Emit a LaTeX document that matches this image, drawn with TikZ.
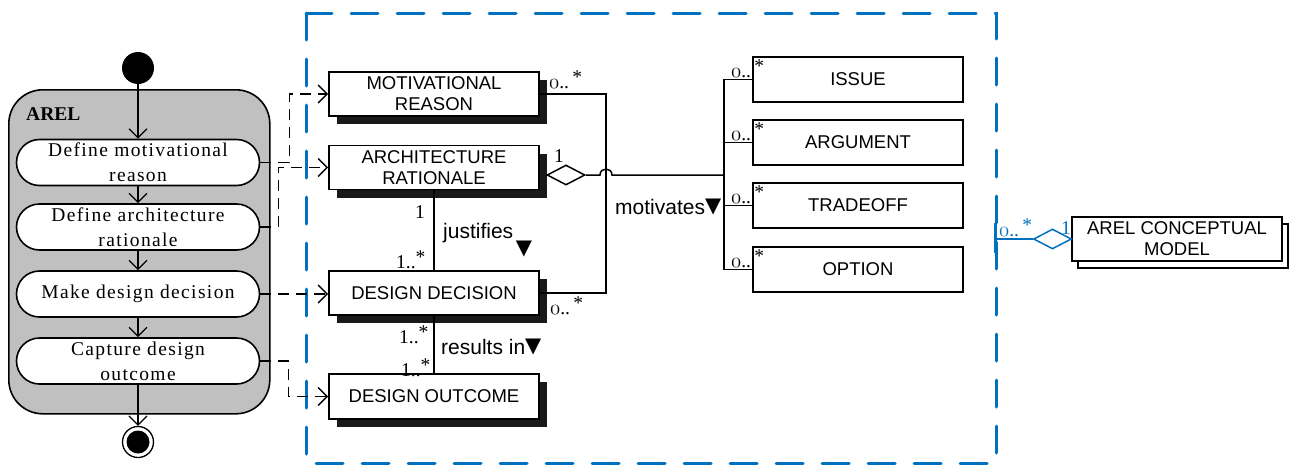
\documentclass[tikz,border=0pt]{standalone}
\usepackage{fontspec}
\setmainfont{Liberation Serif}
\setsansfont{Liberation Sans}
\newfontfamily\actfont[LetterSpace=7]{Liberation Serif}
\newfontfamily\symfont{DejaVu Sans}
\usetikzlibrary{arrows.meta,shadows,shapes.geometric,calc}
\definecolor{frameblue}{HTML}{0070C0}
\definecolor{lanegray}{HTML}{C0C0C0}
\newcommand{\oldzero}{$\mathnormal{0}$}
\newcommand{\many}{\raisebox{4.5pt}{*}}
\newcommand{\dirmark}{{\symfont\fontsize{21}{21}\selectfont▼}}
\begin{document}
\begin{tikzpicture}[x=1pt,y=-1pt,
  lane/.style={draw,line width=1.6pt,fill=lanegray,rounded corners=34pt,anchor=north west,inner sep=0pt},
  action/.style={draw,line width=1.6pt,fill=white,rounded corners=23pt,minimum width=243pt,minimum height=46pt,inner sep=0pt,align=center,font=\actfont\fontsize{19.5}{25}\selectfont},
  flow/.style={line width=1.3pt,-{Straight Barb[length=9pt,width=18pt]}},
  trace/.style={line width=1.4pt,dash pattern=on 11pt off 7pt,-{Straight Barb[length=9pt,width=18pt]}},
  cls/.style={draw,line width=1.6pt,fill=white,minimum width=210pt,minimum height=44pt,inner sep=0pt,align=center,font=\sffamily\fontsize{18.5}{21}\selectfont},
  shadowed/.style={drop shadow={shadow xshift=8pt,shadow yshift=-8pt,fill=black!90,opacity=1}},
  assoc/.style={line width=1.5pt},
  mult/.style={font=\fontsize{19.5}{19.5}\selectfont,inner sep=0pt,anchor=base west},
  rel/.style={font=\sffamily\fontsize{21}{21}\selectfont,inner sep=0pt,anchor=base west},
  agg/.style={diamond,draw,line width=1.5pt,fill=white,minimum width=38pt,minimum height=20pt,inner sep=0pt},
]
\useasboundingbox (0,0) rectangle (1290,466);

% boundary of the conceptual model
\draw[frameblue,line width=3pt,line cap=round,dash pattern=on 27pt off 19pt] (306,13) rectangle (996,463);

% AREL process (activity diagram)
\node[lane,minimum width=261pt,minimum height=324pt] (lane) at (8,89) {};
\node[font=\bfseries\fontsize{19.5}{20}\selectfont,inner sep=0pt,anchor=base west] (lanetitle) at (26,120) {AREL};
\node[circle,fill=black,minimum size=32pt,inner sep=0pt] (init) at (138,68) {};
\node[action] (a1) at (138,162.5) {Define motivational\\reason};
\node[action] (a2) at (138,227) {Define architecture\\rationale};
\node[action] (a3) at (138,294) {Make design decision};
\node[action] (a4) at (138,361) {Capture design\\outcome};
\node[circle,draw,line width=1.3pt,fill=white,minimum size=31pt,inner sep=0pt] (final) at (138,442) {};
\fill (final.center) circle[radius=11.5pt];

\draw[flow] (init) -- (a1);
\draw[flow] (a1) -- (a2);
\draw[flow] (a2) -- (a3);
\draw[flow] (a3) -- (a4);
\draw[flow] (a4) -- (final);

% AREL classes
\node[cls,shadowed] (mr) at (434,94) {MOTIVATIONAL\\REASON};
\node[cls,shadowed] (ar) at (434,167.5) {ARCHITECTURE\\RATIONALE};
\node[cls,shadowed] (dd) at (434,293) {DESIGN DECISION};
\node[cls,shadowed,minimum height=45pt] (dout) at (434,396.5) {DESIGN OUTCOME};

\node[cls,minimum height=45pt] (issue) at (858,79.5) {ISSUE};
\node[cls,minimum height=45pt] (argument) at (858,142.5) {ARGUMENT};
\node[cls,minimum height=45pt] (tradeoff) at (858,205.5) {TRADEOFF};
\node[cls,minimum height=45pt] (option) at (858,269.5) {OPTION};

% process steps trace to the classes they produce
\draw[trace] (a1.east) -- ++(29,0) |- (mr.west);
\draw[trace] (a2.east) -- ++(18,0) |- (ar.west);
\draw[trace] (a3.east) -- (a3.east -| dd.west);
\draw[trace] (a4.east) -- ++(28,0) |- (dout.west);

% associations
\coordinate (hop) at (606,175);
\draw[assoc] (mr.east) -| (hop) |- (dd.east);
\node[agg] (d1) at (566,175) {};
\coordinate (bus) at (724,175);
\draw[assoc] (d1.east) -- (600,175) .. controls (600,167) and (612,167) .. (612,175) -- (bus);
\draw[assoc] (issue.west) -| (bus) |- (option.west);
\draw[assoc] (argument.west) -- (argument.west -| bus);
\draw[assoc] (tradeoff.west) -- (tradeoff.west -| bus);
\draw[assoc] (ar.south) -- (dd.north);
\draw[assoc] (dd.south) -- (dout.north);

% multiplicities
\node[mult] (m1) at (549,88) {\oldzero..\,\many};
\node[mult] (m2) at (554,162) {1};
\node[mult] (m3) at (415,218) {1};
\node[mult] (m4) at (396,268) {1..\many};
\node[mult] (m5) at (550,314) {\oldzero..\,\many};
\node[mult] (m6) at (399,343) {1..\many};
\node[mult] (m7) at (401,376) {1..\many};
\node[mult] (m8) at (731,77) {\oldzero..\,\many};
\node[mult] (m9) at (731,140) {\oldzero..\,\many};
\node[mult] (m10) at (731,203) {\oldzero..\,\many};
\node[mult] (m11) at (731,267) {\oldzero..\,\many};

% association names
\node[rel] (just) at (443,238) {justifies};
\node[inner sep=0pt] (justdir) at (524,249) {\dirmark};
\node[rel] (res) at (441,354) {results in\raisebox{1.5pt}{\dirmark}};
\node[rel] (mot) at (615,214) {motivates\raisebox{1.5pt}{\dirmark}};

% link to the conceptual model
\node[cls,copy shadow={shadow xshift=6pt,shadow yshift=-7pt,draw=black,fill=white,line width=1.6pt}] (acm) at (1177,239) {AREL CONCEPTUAL\\MODEL};
\node[agg,draw=frameblue] (d2) at (1052.5,239) {};
\coordinate (edge) at (995,239);
\coordinate (edgetop) at (995,223);
\coordinate (edgebot) at (995,253);
\draw[frameblue,line width=1.5pt] (edge) -- (d2.west);
\draw[frameblue,line width=3pt] (edgetop) -- (edgebot);
\node[mult,text=frameblue] (m12) at (999,236) {\oldzero..\,\many};
\node[mult,text=frameblue] (m13) at (1061,234) {1};
\end{tikzpicture}
\end{document}
